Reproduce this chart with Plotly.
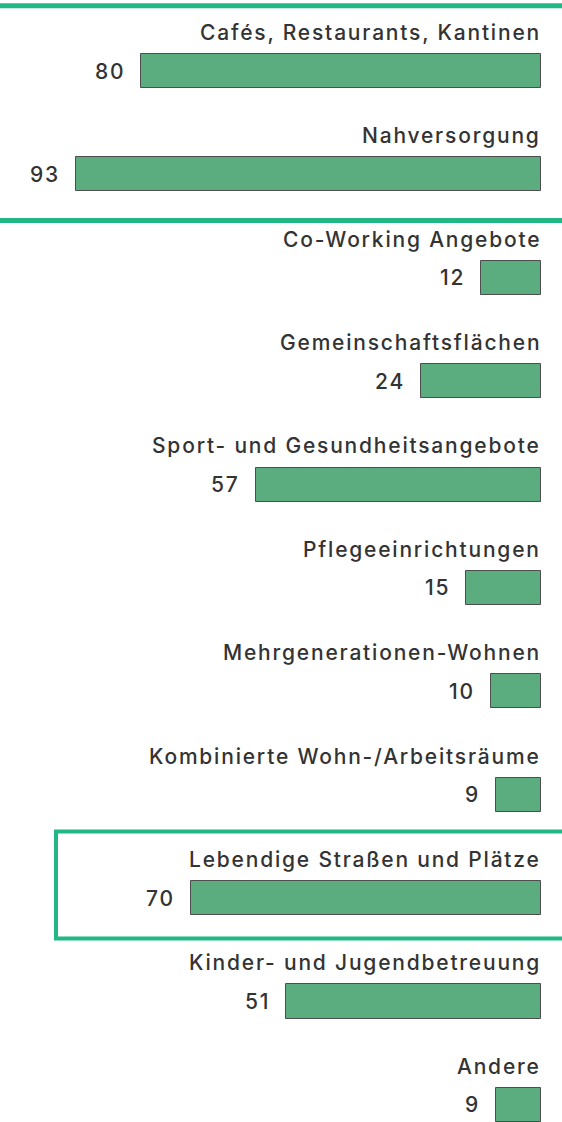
import plotly.graph_objects as go

categories = [
    "Cafés, Restaurants, Kantinen",
    "Nahversorgung",
    "Co-Working Angebote",
    "Gemeinschaftsflächen",
    "Sport- und Gesundheitsangebote",
    "Pflegeeinrichtungen",
    "Mehrgenerationen-Wohnen",
    "Kombinierte Wohn-/Arbeitsräume",
    "Lebendige Straßen und Plätze",
    "Kinder- und Jugendbetreuung",
    "Andere",
]
values = [80, 93, 12, 24, 57, 15, 10, 9, 70, 51, 9]

W, H = 562, 1122
FONT = "Inter"
TXT = "#333333"
GREEN_LINE = "#21B886"
BAR = "#5BAD7F"
LS = "1.8px"

idx = list(range(len(categories)))

fig = go.Figure()
fig.add_trace(go.Bar(
    x=values, y=idx, orientation="h",
    width=0.33,
    marker=dict(color=BAR, line=dict(color="#4d4d4d", width=1)),
    hoverinfo="skip",
))

def sp(t):
    return f'<span style="letter-spacing:{LS}">{t}</span>'

ann = []
for i, (c, v) in enumerate(zip(categories, values)):
    ann.append(dict(x=0, y=i - 0.375, xref="x", yref="y", text=sp(c), showarrow=False,
                    xanchor="right", yanchor="middle", xshift=2,
                    font=dict(family=FONT, size=21, color=TXT, weight=500)))
    ann.append(dict(x=v, y=i, xref="x", yref="y", text=sp(str(v)), showarrow=False,
                    xanchor="right", yanchor="middle", xshift=-14,
                    font=dict(family=FONT, size=21, color=TXT, weight=500)))

shapes = [
    dict(type="line", xref="paper", yref="y", x0=0, x1=1, y0=-0.632, y1=-0.632,
         line=dict(color=GREEN_LINE, width=5)),
    dict(type="line", xref="paper", yref="y", x0=0, x1=1, y0=1.445, y1=1.445,
         line=dict(color=GREEN_LINE, width=5)),
    dict(type="rect", xref="x", yref="y", x0=97.0, x1=-6, y0=7.355, y1=8.39,
         line=dict(color=GREEN_LINE, width=4)),
]

fig.update_layout(
    width=W, height=H,
    margin=dict(l=0, r=0, t=0, b=0),
    paper_bgcolor="white", plot_bgcolor="white",
    showlegend=False,
    bargap=0,
    xaxis=dict(range=[108.2, -4.2], visible=False, fixedrange=True),
    yaxis=dict(range=[10.165, -0.687], visible=False, fixedrange=True),
    annotations=ann,
    shapes=shapes,
)

fig.write_html("out.html", config={"displayModeBar": False},
               post_script="document.body.style.margin='0';document.body.style.overflow='hidden';")
